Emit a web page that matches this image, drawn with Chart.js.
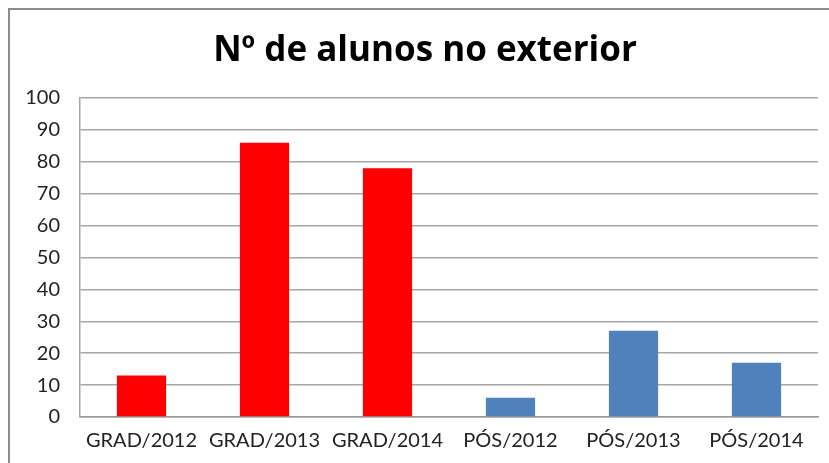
<!DOCTYPE html>
<html>
<head>
<meta charset="utf-8">
<script src="https://cdn.jsdelivr.net/npm/chart.js@4"></script>
<style>
  html, body { margin: 0; padding: 0; background: #fff; overflow: hidden; }
  #wrap { position: relative; width: 829px; height: 463px; }
  #frame { position: absolute; left: 8px; top: 8px; width: 900px; height: 600px; border: 2px solid #8c8c8c; box-sizing: border-box; }
  canvas { position: absolute; left: 0; top: 0; }
</style>
</head>
<body>
<div id="wrap">
  <div id="frame"></div>
  <canvas id="c" width="829" height="463"></canvas>
</div>
<script>
const categories = ["GRAD/2012", "GRAD/2013", "GRAD/2014", "PÓS/2012", "PÓS/2013", "PÓS/2014"];
const values = [13, 86, 78, 6, 27, 17];
const barColors = ["#FF0000", "#FF0000", "#FF0000", "#4F81BD", "#4F81BD", "#4F81BD"];
const titleText = "Nº de alunos no exterior";
const yMin = 0, yMax = 100, yStep = 10;

const FONT = "Lato, 'Open Sans', sans-serif";

const titleShift = {
  id: "titleShift",
  afterLayout(chart) {
    if (chart.titleBlock) chart.titleBlock.left += 32;
  }
};

new Chart(document.getElementById("c"), {
  type: "bar",
  data: {
    labels: categories,
    datasets: [{
      data: values,
      backgroundColor: barColors,
      borderWidth: 0,
      categoryPercentage: 1,
      barPercentage: 0.4
    }]
  },
  plugins: [titleShift],
  options: {
    responsive: false,
    animation: false,
    layout: { padding: { left: 0, right: 11, top: 0, bottom: 0 } },
    plugins: {
      legend: { display: false },
      tooltip: { enabled: false },
      title: {
        display: true,
        text: titleText,
        color: "#000",
        font: { family: "'Open Sans', sans-serif", size: 35, weight: "bold" },
        padding: { top: 30, bottom: 26 }
      }
    },
    scales: {
      x: {
        grid: { display: false, drawTicks: false },
        border: { display: true, color: "#999", width: 1.5 },
        ticks: { color: "#222", font: { family: FONT, size: 20 }, padding: 12, maxRotation: 0, autoSkip: false },
        afterFit(s) { s.height = 46; }
      },
      y: {
        min: yMin, max: yMax,
        grid: { color: "#a6a6a6", lineWidth: 1.5, drawTicks: false },
        border: { display: true, color: "#a6a6a6", width: 1.5 },
        ticks: { stepSize: yStep, color: "#222", font: { family: FONT, size: 20 }, padding: 20 },
        afterFit(s) { s.width = 80; }
      }
    }
  }
});
</script>
</body>
</html>
